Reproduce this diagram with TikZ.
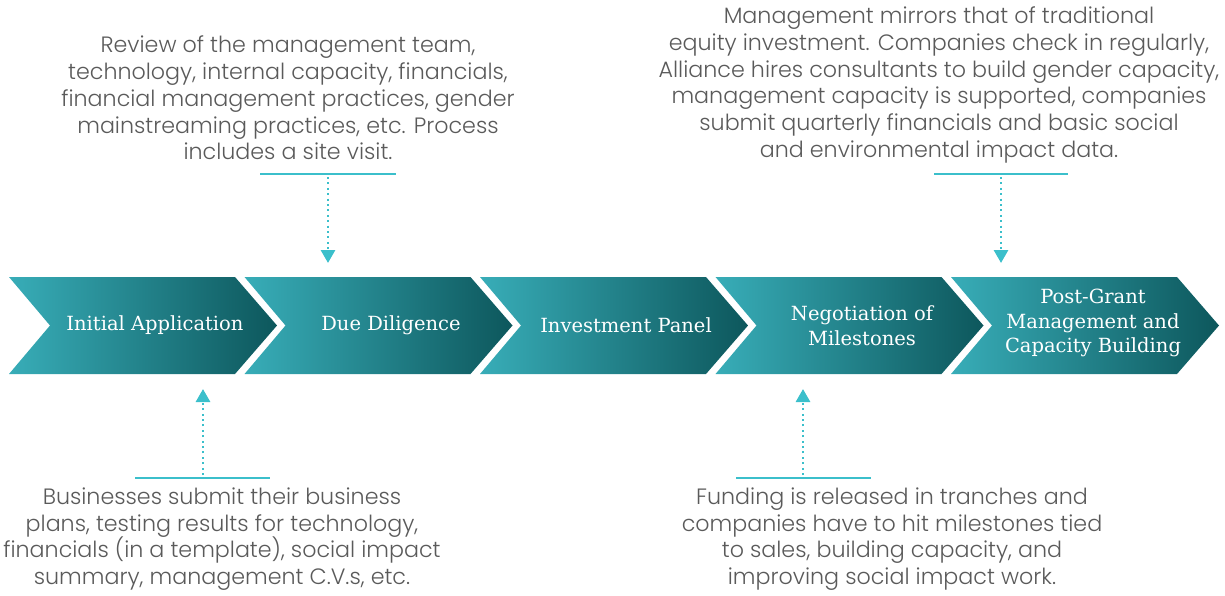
\documentclass[tikz,border=0pt]{standalone}
\usepackage{fontspec}
\usetikzlibrary{arrows.meta}
\newfontfamily\bodyf{Poppins Light}
\newfontfamily\chevf{DejaVu Serif}
\definecolor{tealL}{HTML}{38ADB8}
\definecolor{tealD}{HTML}{0D575C}
\definecolor{acc}{HTML}{3BBFCB}
\definecolor{txt}{HTML}{5A5A5A}
\tikzset{
  body/.style={align=center, text=txt, font=\bodyf\fontsize{22.2}{26.7}\selectfont, inner sep=0pt},
  chevlabel/.style={align=center, text=white, font=\chevf\fontsize{19.5}{24.5}\selectfont, inner sep=0pt},
  hline/.style={draw=acc, line width=2pt},
  dotarrow/.style={draw=acc, line width=2.8pt, dash pattern=on 2pt off 3.4pt, -{Triangle[width=14pt,length=13pt,fill=acc]}},
  chevshade/.style={left color=tealL, right color=tealD}
}
\newcommand\mychev[1]{%
  \shade[chevshade] (#1,277) -- ({#1+226},277) -- ({#1+268},325.5) -- ({#1+226},374) -- (#1,374) -- ({#1+41},325.5) -- cycle;}
\begin{document}
\begin{tikzpicture}[x=1pt,y=-1pt]
\useasboundingbox (0,0) rectangle (1225,595);
\mychev{9}
\mychev{244.5}
\mychev{480}
\mychev{715.5}
\mychev{951}
\node[chevlabel] (c1) at (155,325.5) {Initial Application};
\node[chevlabel] (c2) at (391,325.5) {Due Diligence};
\node[chevlabel] (c3) at (626,325.5) {Investment Panel};
\node[chevlabel] (c4) at (862,325.5) {Negotiation of\\Milestones};
\node[chevlabel] (c5) at (1093,323) {Post-Grant\\Management and\\Capacity Building};

\node[body] (t1) at (288,98) {Review of the management team,\\technology, internal capacity, financials,\\financial management practices, gender\\mainstreaming practices, etc. Process\\includes a site visit.};
\node[body] (t2) at (939,85) {Management mirrors that of traditional\\equity investment. Companies check in regularly,\\Alliance hires consultants to build gender capacity,\\management capacity is supported, companies\\submit quarterly financials and basic social\\and environmental impact data.};
\node[body] (t3) at (222,539) {Businesses submit their business\\plans, testing results for technology,\\financials (in a template), social impact\\summary, management C.V.s, etc.};
\node[body] (t4) at (892,539) {Funding is released in tranches and\\companies have to hit milestones tied\\to sales, building capacity, and\\improving social impact work.};

\coordinate (l1a) at (260,174); \coordinate (l1b) at (396,174);
\coordinate (l2a) at (934,174); \coordinate (l2b) at (1068,174);
\coordinate (l3a) at (135,478); \coordinate (l3b) at (270,478);
\coordinate (l4a) at (736,478); \coordinate (l4b) at (871,478);
\draw[hline] (l1a) -- (l1b);
\draw[hline] (l2a) -- (l2b);
\draw[hline] (l3a) -- (l3b);
\draw[hline] (l4a) -- (l4b);

\coordinate (a1s) at (328,177); \coordinate (a1e) at (328,263);
\coordinate (a2s) at (1001,177); \coordinate (a2e) at (1001,263);
\coordinate (a3s) at (203,475); \coordinate (a3e) at (203,389);
\coordinate (a4s) at (803,475); \coordinate (a4e) at (803,389);
\draw[dotarrow] (a1s) -- (a1e);
\draw[dotarrow] (a2s) -- (a2e);
\draw[dotarrow] (a3s) -- (a3e);
\draw[dotarrow] (a4s) -- (a4e);
\end{tikzpicture}
\end{document}
